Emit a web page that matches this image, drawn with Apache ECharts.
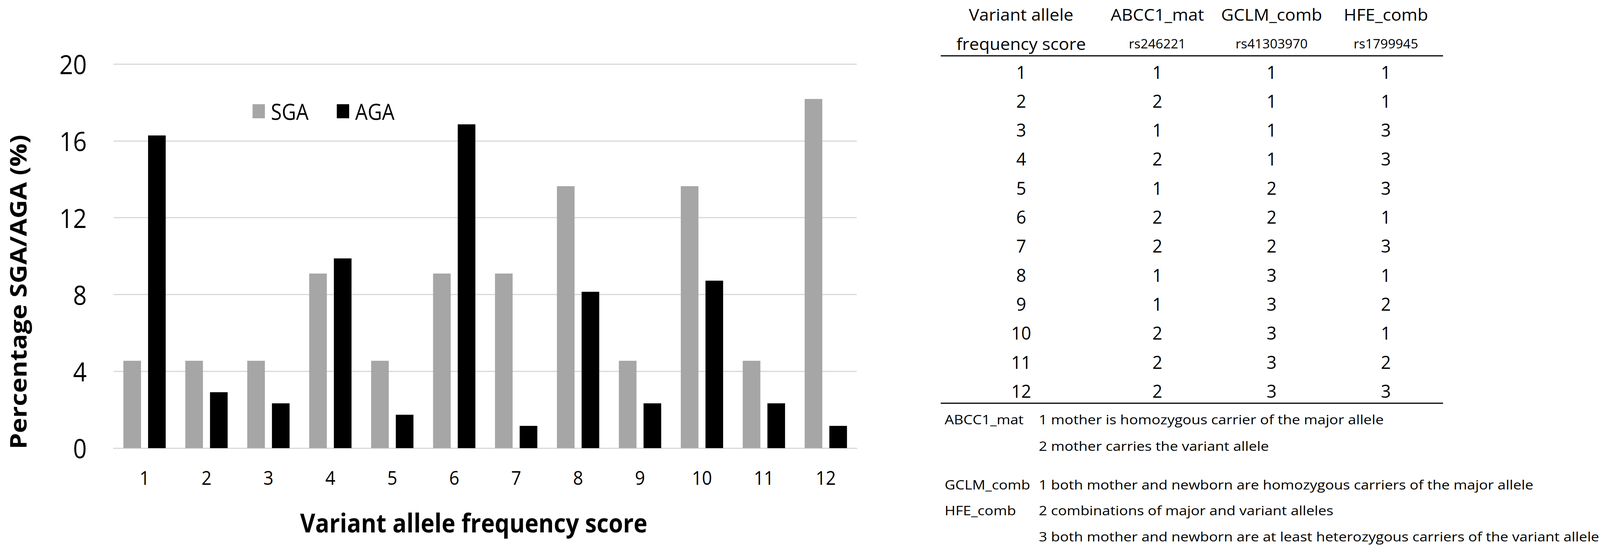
<!DOCTYPE html>
<html>
<head>
<meta charset="utf-8">
<script src="https://cdn.jsdelivr.net/npm/echarts@6/dist/echarts.min.js"></script>
<style>
html,body{margin:0;padding:0;background:#fff;overflow:hidden;}
#chart{position:absolute;left:0;top:0;width:4536px;height:1409px;transform-origin:0 0;}
</style>
</head>
<body>
<div id="chart"></div>
<script>
// ---- chart data ----
const categories = ['1','2','3','4','5','6','7','8','9','10','11','12'];
const sgaValues = [4.55, 4.55, 4.55, 9.09, 4.55, 9.09, 9.09, 13.64, 4.55, 13.64, 4.55, 18.18];
const agaValues = [16.28, 2.91, 2.33, 9.88, 1.74, 16.86, 1.16, 8.14, 2.33, 8.72, 2.33, 1.16];
const yTicks = [0, 4, 8, 12, 16, 20];
const seriesNames = ['SGA', 'AGA'];
const xTitle = 'Variant allele frequency score';
const yTitle = 'Percentage SGA/AGA (%)';

// ---- table data ----
const headerLine1 = ['Variant allele', 'ABCC1_mat', 'GCLM_comb', 'HFE_comb'];
const headerLine2 = ['frequency score', 'rs246221', 'rs41303970', 'rs1799945'];
const scoreCol = ['1','2','3','4','5','6','7','8','9','10','11','12'];
const abcc1Col = ['1','2','1','2','1','2','2','1','1','2','2','2'];
const gclmCol  = ['1','1','1','1','2','2','2','3','3','3','3','3'];
const hfeCol   = ['1','1','3','3','3','1','3','1','2','1','2','3'];
const noteLabels = ['ABCC1_mat', '', 'GCLM_comb', 'HFE_comb', ''];
const noteTexts = [
  '1 mother is homozygous carrier of the major allele',
  '2 mother carries the variant allele',
  '1 both mother and newborn are homozygous carriers of the major allele',
  '2 combinations of major and variant alleles',
  '3 both mother and newborn are at least heterozygous carriers of the variant allele'
];

const FONT = "'Open Sans', 'DejaVu Sans', sans-serif";

// design canvas is 4536 x 1409; fit it to the real viewport
const W = 4536, H = 1409;
const el = document.getElementById('chart');
const kx = (window.innerWidth || W) / W, ky = (window.innerHeight || H) / H;
el.style.transform = 'scale(' + kx + ',' + ky + ')';

// ---- table layout ----
const colX = [2895, 3281, 3605, 3929];
const head1Y = 37, head2Y = 112;
const row0Y = 184, rowStep = 74.3;
const ruleX1 = 2667, ruleX2 = 4091, ruleTopY = 143, ruleBotY = 1033;
const noteLabelX = 2678, noteTextX = 2945;
const noteY = [1075, 1143, 1242, 1308, 1375];
const tblScale = 1.17, noteScale = 1.30;

function txt(x, y, str, size, opts) {
  opts = opts || {};
  const al = opts.align || 'center';
  return {
    type: 'text', x: x, y: y,
    scaleX: opts.scaleX || 1, scaleY: 1,
    rotation: opts.rotation || 0,
    style: {
      text: str, x: 0, y: 0,
      fill: opts.fill || '#000',
      fontSize: size, fontFamily: FONT,
      fontWeight: opts.weight || 'normal',
      align: al, verticalAlign: 'middle',
      textAlign: al, textVerticalAlign: 'middle'
    }
  };
}

const graphics = [];
// axis titles
graphics.push(txt(1343, 1338, xTitle, 66, {weight: 'bold'}));
graphics.push(txt(50, 748, yTitle, 66, {weight: 'bold', rotation: Math.PI / 2}));

// table headers
headerLine1.forEach((h, i) => graphics.push(txt(colX[i], head1Y, h, 42, {scaleX: tblScale})));
headerLine2.forEach((h, i) => graphics.push(txt(colX[i], head2Y, h, i === 0 ? 42 : 32, {scaleX: tblScale})));
// rules
[ruleTopY, ruleBotY].forEach(y => graphics.push({
  type: 'line', shape: {x1: ruleX1, y1: y, x2: ruleX2, y2: y},
  style: {stroke: '#000', lineWidth: 3}
}));
// rows
const cols = [scoreCol, abcc1Col, gclmCol, hfeCol];
scoreCol.forEach((_, r) => {
  cols.forEach((col, c) => {
    graphics.push(txt(colX[c], row0Y + r * rowStep, col[r], 45, {scaleX: 1.1}));
  });
});
// notes
noteTexts.forEach((t, i) => {
  if (noteLabels[i]) graphics.push(txt(noteLabelX, noteY[i], noteLabels[i], 32, {align: 'left', scaleX: noteScale}));
  graphics.push(txt(noteTextX, noteY[i], t, 32, {align: 'left', scaleX: noteScale}));
});

const chart = echarts.init(el, null, {renderer: 'svg', width: W, height: H});
chart.setOption({
  backgroundColor: '#fff',
  animation: false,
  textStyle: {fontFamily: FONT},
  legend: {
    data: seriesNames,
    left: 711, top: 252,
    itemWidth: 35, itemHeight: 36,
    itemGap: 80,
    icon: 'rect',
    textStyle: {fontSize: 56, color: '#000', fontFamily: FONT, padding: [0, 0, 0, 12]}
  },
  grid: {left: 322, right: W - 2429, top: 164, bottom: H - 1148, containLabel: false},
  xAxis: {
    type: 'category',
    data: categories,
    axisLine: {show: true, lineStyle: {color: '#d9d9d9', width: 3}},
    axisTick: {show: false},
    axisLabel: {fontSize: 50, color: '#000', margin: 50, fontFamily: FONT}
  },
  yAxis: {
    type: 'value',
    min: yTicks[0], max: yTicks[yTicks.length - 1], interval: yTicks[1] - yTicks[0],
    axisLine: {show: false},
    axisTick: {show: false},
    splitLine: {lineStyle: {color: '#d9d9d9', width: 3}},
    axisLabel: {fontSize: 68, color: '#000', margin: 76, fontFamily: FONT}
  },
  series: [
    {name: seriesNames[0], type: 'bar', data: sgaValues, barWidth: 50, barGap: '40%',
     itemStyle: {color: '#a6a6a6'}},
    {name: seriesNames[1], type: 'bar', data: agaValues, barWidth: 50, barGap: '40%',
     itemStyle: {color: '#000000'}}
  ],
  graphic: {elements: graphics}
});
</script>
</body>
</html>
